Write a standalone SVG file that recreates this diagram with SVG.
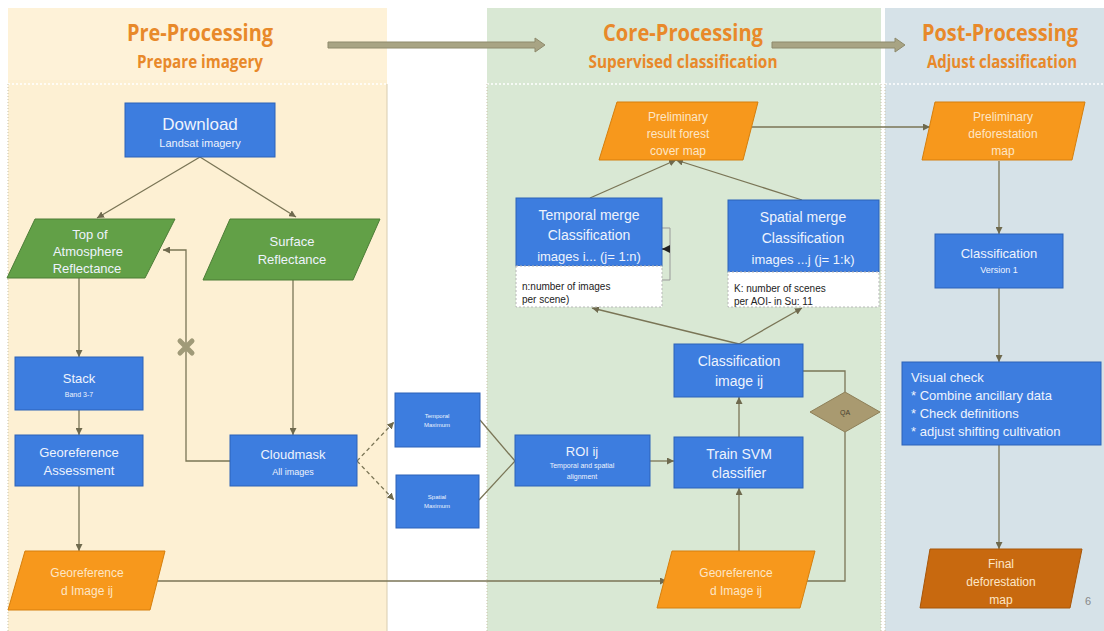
<svg xmlns="http://www.w3.org/2000/svg" width="1104" height="631" viewBox="0 0 1104 631">
<defs>
<marker id="ah" markerWidth="7" markerHeight="7" refX="7" refY="3.5" orient="auto" markerUnits="userSpaceOnUse"><path d="M0,0 L7,3.5 L0,7 z" fill="#6f6a4e"/></marker>
<marker id="ahk" markerWidth="8" markerHeight="8" refX="8" refY="4" orient="auto" markerUnits="userSpaceOnUse"><path d="M0,0 L8,4 L0,8 z" fill="#222"/></marker>
<style>
.hd{font-family:"Open Sans","Liberation Sans",sans-serif;font-weight:700;fill:#e8892a;text-anchor:middle}
.blue{fill:#3d7ddf;stroke:#2d63b8;stroke-width:1}
.green{fill:#62a047;stroke:#4c7d37;stroke-width:1}
.orange{fill:#f7981c;stroke:#d67f0c;stroke-width:1}
.dorange{fill:#c8690f;stroke:#a85608;stroke-width:1}
.t{font-family:"Liberation Sans",Arial,sans-serif;fill:#eef3fd;text-anchor:middle}
.ts{font-family:"Liberation Sans",Arial,sans-serif;fill:#eef3fd;text-anchor:start}
.to{font-family:"Liberation Sans",Arial,sans-serif;fill:#fde6c6;text-anchor:middle}
.note{fill:#ffffff;stroke:#b8b8b8;stroke-width:1;stroke-dasharray:2 2}
.nt{font-family:"Liberation Sans",Arial,sans-serif;fill:#222;font-size:10px}
.c{fill:none;stroke:#7a7556;stroke-width:1.3}
.sep{stroke:#ffffff;stroke-width:1.5;stroke-dasharray:2 2}
.edge{stroke:#c9c2a8;stroke-width:1;stroke-dasharray:1 2}
</style>
</defs>
<rect x="0" y="0" width="1104" height="631" fill="#ffffff"/>
<g id="panels">
<rect x="8" y="8" width="379" height="623" fill="#fdf0d3"/>
<rect x="8" y="8" width="379" height="72" fill="#fef2d8"/>
<rect x="487" y="8" width="394" height="623" fill="#d9e8d4"/>
<rect x="885" y="8" width="219" height="623" fill="#d6e2e8"/>
<line x1="8" y1="84" x2="387" y2="84" class="sep"/>
<line x1="487" y1="84" x2="881" y2="84" class="sep"/>
<line x1="885" y1="84" x2="1104" y2="84" class="sep"/>
<line x1="8" y1="84" x2="8" y2="631" class="edge"/>
<line x1="387" y1="84" x2="387" y2="631" stroke="#d8cdb0" stroke-width="1"/>
<line x1="487" y1="84" x2="487" y2="631" class="edge"/>
<line x1="881" y1="84" x2="881" y2="631" class="edge"/>
<line x1="885" y1="84" x2="885" y2="631" class="edge"/>
</g>
<g id="headers">
<text x="200" y="41" class="hd" font-size="24" textLength="146" lengthAdjust="spacingAndGlyphs">Pre-Processing</text>
<text x="200" y="68" class="hd" font-size="17" textLength="126" lengthAdjust="spacingAndGlyphs">Prepare imagery</text>
<text x="683" y="41" class="hd" font-size="24" textLength="160" lengthAdjust="spacingAndGlyphs">Core-Processing</text>
<text x="683" y="68" class="hd" font-size="17" textLength="189" lengthAdjust="spacingAndGlyphs">Supervised classification</text>
<text x="1000" y="41" class="hd" font-size="23" textLength="156" lengthAdjust="spacingAndGlyphs">Post-Processing</text>
<text x="1002" y="68" class="hd" font-size="17" textLength="150" lengthAdjust="spacingAndGlyphs">Adjust classification</text>
<path d="M328,42 H535 V38 L545,45 L535,52 V48 H328 Z" fill="#a8a484" stroke="#8e8a6c" stroke-width="1"/>
<path d="M772,42 H895 V38 L905,45 L895,52 V48 H772 Z" fill="#a8a484" stroke="#8e8a6c" stroke-width="1"/>
</g>
<g id="connectors">
<path class="c" d="M200,157 L97,218" marker-end="url(#ah)"/>
<path class="c" d="M200,157 L296,217" marker-end="url(#ah)"/>
<path class="c" d="M79,278 V357" marker-end="url(#ah)"/>
<path class="c" d="M79,410 V435" marker-end="url(#ah)"/>
<path class="c" d="M79,486 V551" marker-end="url(#ah)"/>
<path class="c" d="M293,280 V435" marker-end="url(#ah)"/>
<path class="c" d="M230,461 H186 V250 H163" marker-end="url(#ah)"/>
<path d="M180,341 L192,353 M192,341 L180,353" stroke="#a09a78" stroke-width="5" stroke-linecap="round"/>
<path class="c" d="M357,461 L394,422" stroke-dasharray="4 3" marker-end="url(#ah)"/>
<path class="c" d="M357,461 L394,500" stroke-dasharray="4 3" marker-end="url(#ah)"/>
<path class="c" d="M480,420 L515,461"/>
<path class="c" d="M479,500 L515,461"/>
<path class="c" d="M650,461 H674" marker-end="url(#ah)"/>
<path class="c" d="M739,437 V397" marker-end="url(#ah)"/>
<path class="c" d="M739,551 V488" marker-end="url(#ah)"/>
<path class="c" d="M803,371 H845 V392"/>
<path class="c" d="M845,432 V581 H806"/>
<path class="c" d="M155,581 H667" marker-end="url(#ah)"/>
<path class="c" d="M739,344 L592,308" marker-end="url(#ah)"/>
<path class="c" d="M739,344 L802,308" marker-end="url(#ah)"/>
<path class="c" d="M590,198 L676,160" marker-end="url(#ah)"/>
<path class="c" d="M802,200 L676,160" marker-end="url(#ah)"/>
<path class="c" d="M752,127 H930" marker-end="url(#ah)"/>
<path class="c" d="M999,161 V234" marker-end="url(#ah)"/>
<path class="c" d="M999,288 V362" marker-end="url(#ah)"/>
<path class="c" d="M999,445 V549" marker-end="url(#ah)"/>
<path d="M662,228 H670 V280 H662" fill="none" stroke="#999" stroke-width="1"/>
<path d="M670,249 H662" stroke="#222" stroke-width="1.5" marker-end="url(#ahk)"/>
</g>
<g id="download">
<rect x="125" y="103" width="150" height="54" class="blue"/>
<text x="200" y="130" class="t" font-size="17">Download</text>
<text x="200" y="147" class="t" font-size="11">Landsat imagery</text>
</g>
<g id="toa">
<polygon points="35,219 175,219 145,278 7,278" class="green"/>
<text x="90" y="239" class="t" font-size="13">Top of</text>
<text x="88" y="256" class="t" font-size="13">Atmosphere</text>
<text x="87" y="273" class="t" font-size="13">Reflectance</text>
</g>
<g id="surface">
<polygon points="230,219 380,219 353,280 203,280" class="green"/>
<text x="292" y="246" class="t" font-size="13">Surface</text>
<text x="292" y="264" class="t" font-size="13">Reflectance</text>
</g>
<g id="stack">
<rect x="15" y="357" width="128" height="53" class="blue"/>
<text x="79" y="383" class="t" font-size="13">Stack</text>
<text x="79" y="397" class="t" font-size="7">Band 3-7</text>
</g>
<g id="georef-assessment">
<rect x="15" y="435" width="128" height="51" class="blue"/>
<text x="79" y="457" class="t" font-size="13">Georeference</text>
<text x="79" y="475" class="t" font-size="13">Assessment</text>
</g>
<g id="cloudmask">
<rect x="230" y="435" width="127" height="51" class="blue"/>
<text x="293" y="459" class="t" font-size="13">Cloudmask</text>
<text x="293" y="475" class="t" font-size="9">All images</text>
</g>
<g id="temporal-max">
<rect x="395" y="393" width="85" height="54" class="blue"/>
<text x="437" y="418" class="t" font-size="6">Temporal</text>
<text x="437" y="427" class="t" font-size="6">Maximum</text>
</g>
<g id="spatial-max">
<rect x="396" y="475" width="83" height="53" class="blue"/>
<text x="437" y="499" class="t" font-size="6">Spatial</text>
<text x="437" y="508" class="t" font-size="6">Maximum</text>
</g>
<g id="georef-left">
<polygon points="25,551 165,551 150,610 8,610" class="orange"/>
<text x="87" y="577" class="to" font-size="12">Georeference</text>
<text x="87" y="595" class="to" font-size="12">d Image ij</text>
</g>
<g id="roi">
<rect x="515" y="435" width="135" height="51" class="blue"/>
<text x="582" y="456" class="t" font-size="13">ROI ij</text>
<text x="582" y="468" class="t" font-size="7">Temporal and spatial</text>
<text x="582" y="479" class="t" font-size="7">alignment</text>
</g>
<g id="train-svm">
<rect x="674" y="437" width="129" height="51" class="blue"/>
<text x="739" y="459" class="t" font-size="14">Train SVM</text>
<text x="739" y="478" class="t" font-size="14">classifier</text>
</g>
<g id="classification-image">
<rect x="674" y="344" width="129" height="53" class="blue"/>
<text x="739" y="366" class="t" font-size="14">Classification</text>
<text x="739" y="386" class="t" font-size="14">image ij</text>
</g>
<g id="qa">
<polygon points="845,392 880,412 845,432 810,412" fill="#a99a70" stroke="#8d7f58" stroke-width="1"/>
<text x="845" y="415" font-family="Liberation Sans,Arial,sans-serif" font-size="7" fill="#4a4230" text-anchor="middle">QA</text>
</g>
<g id="georef-right">
<polygon points="672,551 815,551 800,608 657,608" class="orange"/>
<text x="736" y="577" class="to" font-size="12">Georeference</text>
<text x="736" y="595" class="to" font-size="12">d Image ij</text>
</g>
<g id="temporal-merge">
<rect x="516" y="198" width="146" height="68" class="blue"/>
<rect x="516" y="266" width="146" height="41" class="note"/>
<text x="589" y="220" class="t" font-size="14">Temporal merge</text>
<text x="589" y="240" class="t" font-size="14">Classification</text>
<text x="589" y="261" class="t" font-size="13">images i... (j= 1:n)</text>
<text x="522" y="290" class="nt">n:number of images</text>
<text x="522" y="303" class="nt">per scene)</text>
</g>
<g id="spatial-merge">
<rect x="728" y="200" width="151" height="72" class="blue"/>
<rect x="728" y="272" width="151" height="35" class="note"/>
<text x="803" y="222" class="t" font-size="14">Spatial merge</text>
<text x="803" y="243" class="t" font-size="14">Classification</text>
<text x="803" y="264" class="t" font-size="13">images ...j (j= 1:k)</text>
<text x="734" y="292" class="nt">K: number of scenes</text>
<text x="734" y="305" class="nt">per AOI- in Su: 11</text>
</g>
<g id="prelim-forest">
<polygon points="617,102 758,102 743,160 599,160" class="orange"/>
<text x="678" y="121" class="to" font-size="12">Preliminary</text>
<text x="678" y="138" class="to" font-size="12">result forest</text>
<text x="678" y="155" class="to" font-size="12">cover map</text>
</g>
<g id="prelim-deforestation">
<polygon points="935,102 1085,102 1072,160 922,160" class="orange"/>
<text x="1003" y="121" class="to" font-size="12">Preliminary</text>
<text x="1003" y="138" class="to" font-size="12">deforestation</text>
<text x="1003" y="155" class="to" font-size="12">map</text>
</g>
<g id="classification-v1">
<rect x="935" y="234" width="128" height="54" class="blue"/>
<text x="999" y="258" class="t" font-size="13">Classification</text>
<text x="999" y="273" class="t" font-size="9">Version 1</text>
</g>
<g id="visual-check">
<rect x="902" y="362" width="199" height="83" class="blue"/>
<text x="911" y="382" class="ts" font-size="13">Visual check</text>
<text x="911" y="400" class="ts" font-size="13">* Combine ancillary data</text>
<text x="911" y="418" class="ts" font-size="13">* Check definitions</text>
<text x="911" y="436" class="ts" font-size="13">* adjust shifting cultivation</text>
</g>
<g id="final-map">
<polygon points="930,549 1082,549 1070,608 920,608" class="dorange"/>
<text x="1001" y="568" class="to" font-size="12">Final</text>
<text x="1001" y="586" class="to" font-size="12">deforestation</text>
<text x="1001" y="604" class="to" font-size="12">map</text>
</g>
<text x="1088" y="605" font-family="Liberation Sans,Arial,sans-serif" font-size="11" fill="#888" text-anchor="middle">6</text>
</svg>
